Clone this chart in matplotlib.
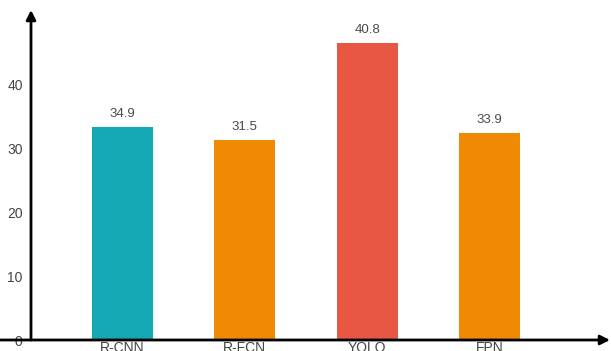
import matplotlib
matplotlib.use("Agg")
import matplotlib.pyplot as plt

# data
models = ["R-CNN", "R-FCN", "YOLO", "FPN"]
bar_heights = [33.4, 31.4, 46.6, 32.5]
bar_labels = ["34.9", "31.5", "40.8", "33.9"]
bar_colors = ["#14A8B5", "#F08A04", "#E85744", "#F08A04"]
yticks = [0, 10, 20, 30, 40]

plt.rcParams["font.family"] = ["Liberation Sans", "DejaVu Sans"]

W, H = 611, 351
fig = plt.figure(figsize=(W / 100, H / 100), dpi=100)

x0_px, y0_px = 31, 340          # origin of the drawn axes, in pixels
ax = fig.add_axes([x0_px / W, (H - y0_px) / H, (W - x0_px) / W, y0_px / H])

px_per_unit = 6.375
step_px = 122.3
first_px = 122.5
ax.set_ylim(0, y0_px / px_per_unit)
ax.set_xlim((x0_px - first_px) / step_px, (W - first_px) / step_px)

xs = list(range(len(models)))
bars = ax.bar(xs, bar_heights, width=0.5, color=bar_colors)
for rect, lab in zip(bars, bar_labels):
    ax.annotate(lab, (rect.get_x() + rect.get_width() / 2, rect.get_height()),
                xytext=(0, 5), textcoords="offset points",
                ha="center", va="bottom", fontsize=9.5, color="#4a4a4a")

for s in ax.spines.values():
    s.set_visible(False)
ax.set_yticks(yticks)
ax.set_yticklabels([str(t) for t in yticks], fontsize=10, color="#444444")
ax.tick_params(axis="y", length=0, pad=6)
ax.set_xticks(xs)
ax.set_xticklabels(models, fontsize=10, color="#444444")
ax.tick_params(axis="x", length=0, pad=1)

# axis arrows
arrow = dict(arrowstyle="-|>", lw=2, color="black", mutation_scale=14,
             shrinkA=0, shrinkB=0)
ax.annotate("", xy=(x0_px / W, 1 - 10 / H), xytext=(x0_px / W, 1 - y0_px / H),
            xycoords="figure fraction", textcoords="figure fraction",
            arrowprops=arrow, annotation_clip=False)
ax.annotate("", xy=(610 / W, 1 - y0_px / H), xytext=(0, 1 - y0_px / H),
            xycoords="figure fraction", textcoords="figure fraction",
            arrowprops=arrow, annotation_clip=False)

fig.savefig("out.png", dpi=100)
